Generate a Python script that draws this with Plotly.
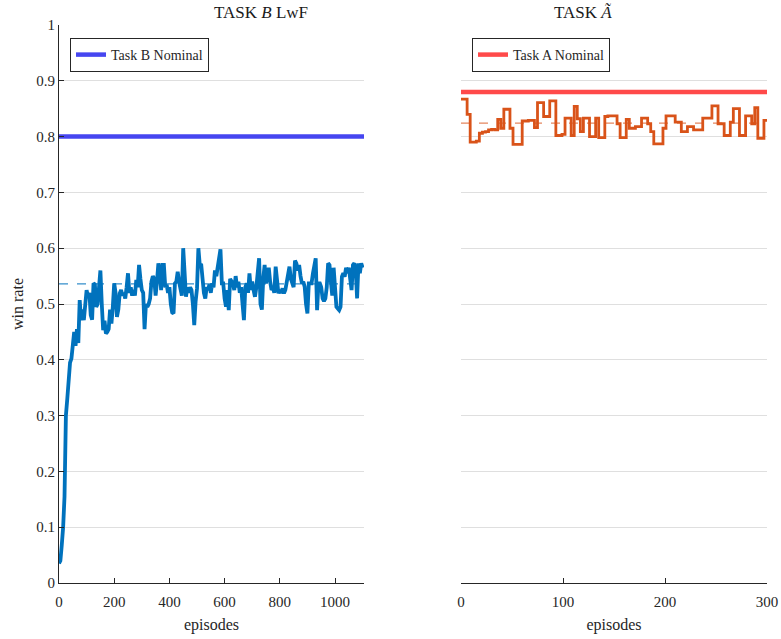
import plotly.graph_objects as go

# ---------------- data ----------------
# Task B (LwF) win rate, sampled every 5 episodes
episodes_b = list(range(0, 1101, 5))
win_b = [
    0.035, 0.040, 0.068, 0.100, 0.155, 0.300, 0.330, 0.372, 0.395, 0.402,
    0.420, 0.450, 0.425, 0.455, 0.430, 0.507, 0.471, 0.490, 0.471, 0.500,
    0.525, 0.513, 0.520, 0.480, 0.472, 0.537, 0.535, 0.495, 0.500, 0.530,
    0.560, 0.500, 0.453, 0.470, 0.447, 0.450, 0.455, 0.490, 0.465, 0.495,
    0.537, 0.520, 0.477, 0.490, 0.519, 0.525, 0.515, 0.520, 0.510, 0.530,
    0.555, 0.520, 0.530, 0.515, 0.525, 0.515, 0.543, 0.530, 0.570, 0.545,
    0.525, 0.520, 0.455, 0.500, 0.495, 0.500, 0.510, 0.540, 0.550, 0.545,
    0.515, 0.540, 0.573, 0.560, 0.525, 0.570, 0.570, 0.530, 0.535, 0.520,
    0.530, 0.500, 0.485, 0.483, 0.537, 0.540, 0.558, 0.540, 0.525, 0.515,
    0.600, 0.540, 0.513, 0.530, 0.520, 0.530, 0.525, 0.500, 0.462, 0.505,
    0.528, 0.600, 0.570, 0.572, 0.535, 0.520, 0.510, 0.530, 0.525, 0.535,
    0.520, 0.537, 0.530, 0.560, 0.550, 0.570, 0.585, 0.598, 0.537, 0.537,
    0.510, 0.495, 0.525, 0.489, 0.545, 0.540, 0.537, 0.525, 0.550, 0.530,
    0.540, 0.520, 0.530, 0.500, 0.471, 0.530, 0.537, 0.520, 0.555, 0.525,
    0.540, 0.525, 0.513, 0.530, 0.560, 0.582, 0.500, 0.490, 0.545, 0.570,
    0.537, 0.550, 0.565, 0.540, 0.525, 0.530, 0.520, 0.567, 0.545, 0.519,
    0.525, 0.520, 0.528, 0.519, 0.525, 0.540, 0.552, 0.567, 0.545, 0.537,
    0.530, 0.578, 0.573, 0.560, 0.570, 0.550, 0.537, 0.540, 0.531, 0.500,
    0.483, 0.537, 0.537, 0.537, 0.555, 0.570, 0.582, 0.489, 0.537, 0.537,
    0.530, 0.510, 0.505, 0.510, 0.530, 0.573, 0.570, 0.540, 0.515, 0.565,
    0.525, 0.495, 0.492, 0.489, 0.495, 0.549, 0.555, 0.549, 0.565, 0.555,
    0.565, 0.550, 0.525, 0.570, 0.573, 0.560, 0.510, 0.573, 0.555, 0.573,
    0.565,
]
mean_b = 0.536
nominal_b = 0.80

# Task A (after training on B) win rate, sampled every 3 episodes
episodes_a = list(range(0, 301, 3))
win_a = [
    0.867, 0.867, 0.840, 0.790, 0.790, 0.792, 0.806, 0.808, 0.809, 0.812,
    0.813, 0.812, 0.831, 0.815, 0.849, 0.849, 0.815, 0.786, 0.786, 0.786,
    0.828, 0.828, 0.829, 0.829, 0.816, 0.861, 0.861, 0.836, 0.836, 0.864,
    0.864, 0.802, 0.802, 0.804, 0.833, 0.833, 0.802, 0.854, 0.832, 0.809,
    0.833, 0.833, 0.800, 0.800, 0.833, 0.798, 0.798, 0.836, 0.837, 0.837,
    0.837, 0.823, 0.798, 0.798, 0.831, 0.815, 0.815, 0.818, 0.818, 0.833,
    0.833, 0.823, 0.809, 0.787, 0.787, 0.787, 0.815, 0.837, 0.837, 0.837,
    0.826, 0.826, 0.809, 0.809, 0.818, 0.818, 0.812, 0.812, 0.812, 0.833,
    0.833, 0.833, 0.855, 0.855, 0.823, 0.823, 0.802, 0.802, 0.826, 0.850,
    0.850, 0.802, 0.802, 0.837, 0.837, 0.823, 0.852, 0.797, 0.797, 0.829,
    0.829,
]
mean_a = 0.824
nominal_a = 0.88

xmax_b = 1105
xmax_a = 300
y_ticks = [0, 0.1, 0.2, 0.3, 0.4, 0.5, 0.6, 0.7, 0.8, 0.9, 1]
y_tick_text = ["0", "0.1", "0.2", "0.3", "0.4", "0.5", "0.6", "0.7", "0.8", "0.9", "1"]
x_ticks_b = [0, 200, 400, 600, 800, 1000]
x_ticks_a = [0, 100, 200, 300]

# ---------------- styling ----------------
FONT = "Liberation Serif, Times New Roman, serif"
AXIS_COLOR = "#262626"
GRID_COLOR = "#dfdfdf"
BLUE = "#0072BD"
ORANGE = "#D95319"
NOM_BLUE = "#4646F0"
NOM_RED = "#FF4A4A"

fig = go.Figure()

# left panel: task B
fig.add_trace(go.Scatter(
    x=[0, xmax_b], y=[mean_b, mean_b], mode="lines",
    line=dict(color="rgba(0,114,189,0.8)", width=1.2, dash="dash"),
    xaxis="x", yaxis="y", showlegend=False, hoverinfo="skip"))
fig.add_trace(go.Scatter(
    x=episodes_b, y=win_b, mode="lines",
    line=dict(color=BLUE, width=3.8),
    xaxis="x", yaxis="y", showlegend=False))
fig.add_trace(go.Scatter(
    x=[0, xmax_b], y=[nominal_b, nominal_b], mode="lines",
    line=dict(color=NOM_BLUE, width=4.5),
    name="Task B Nominal", xaxis="x", yaxis="y", legend="legend"))

# right panel: task A
fig.add_trace(go.Scatter(
    x=[0, xmax_a], y=[mean_a, mean_a], mode="lines",
    line=dict(color="rgba(217,83,25,0.7)", width=1.2, dash="dash"),
    xaxis="x2", yaxis="y2", showlegend=False, hoverinfo="skip"))
fig.add_trace(go.Scatter(
    x=episodes_a, y=win_a, mode="lines", line_shape="hv",
    line=dict(color=ORANGE, width=2.8),
    xaxis="x2", yaxis="y2", showlegend=False))
fig.add_trace(go.Scatter(
    x=[0, xmax_a], y=[nominal_a, nominal_a], mode="lines",
    line=dict(color=NOM_RED, width=4.5),
    name="Task A Nominal", xaxis="x2", yaxis="y2", legend="legend2"))

x_common = dict(
    showline=True, linecolor=AXIS_COLOR, linewidth=1,
    ticks="inside", ticklen=5, tickcolor=AXIS_COLOR,
    showgrid=False, zeroline=False, automargin=False,
    ticklabelstandoff=5,
    tickfont=dict(family=FONT, size=15, color=AXIS_COLOR),
    title=dict(text="episodes", font=dict(family=FONT, size=16, color=AXIS_COLOR), standoff=9),
)

y_dom = [1 - 583 / 639, 1 - 25 / 639]

legend_style = dict(
    xanchor="left", yanchor="top", y=1 - 38 / 639,
    bgcolor="white", bordercolor="#262626", borderwidth=1,
    font=dict(family=FONT, size=14, color=AXIS_COLOR),
    tracegroupgap=0, itemwidth=30,
)

fig.update_layout(
    width=781, height=639,
    margin=dict(l=0, r=0, t=0, b=0, autoexpand=False),
    paper_bgcolor="white", plot_bgcolor="white",
    font=dict(family=FONT, color=AXIS_COLOR),
    xaxis=dict(domain=[59 / 781, 364 / 781], range=[0, xmax_b],
               tickvals=x_ticks_b, anchor="y", **x_common),
    yaxis=dict(domain=y_dom, range=[0, 1], tickvals=y_ticks, ticktext=y_tick_text,
               showline=True, linecolor=AXIS_COLOR, linewidth=1,
               ticks="inside", ticklen=5, tickcolor=AXIS_COLOR,
               showgrid=True, gridcolor=GRID_COLOR, gridwidth=1, zeroline=False,
               automargin=False,
               tickfont=dict(family=FONT, size=15, color=AXIS_COLOR),
               title=dict(text="win rate", font=dict(family=FONT, size=16, color=AXIS_COLOR), standoff=8),
               anchor="x"),
    xaxis2=dict(domain=[461 / 781, 767 / 781], range=[0, xmax_a],
                tickvals=x_ticks_a, anchor="y2", **x_common),
    yaxis2=dict(domain=y_dom, range=[0, 1], tickvals=y_ticks,
                showticklabels=False, showline=False, ticks="",
                showgrid=True, gridcolor=GRID_COLOR, gridwidth=1, zeroline=False,
                automargin=False, anchor="x2"),
    legend=dict(x=70 / 781, **legend_style),
    legend2=dict(x=472 / 781, **legend_style),
    annotations=[
        dict(text="TASK <i>B</i> LwF", x=(59 + 364) / 2 / 781, y=1 - 12 / 639,
             xref="paper", yref="paper", showarrow=False, yanchor="middle",
             font=dict(family=FONT, size=17, color="#1a1a1a")),
        dict(text="TASK <i>Ã</i>", x=(461 + 767) / 2 / 781, y=1 - 12 / 639,
             xref="paper", yref="paper", showarrow=False, yanchor="middle",
             font=dict(family=FONT, size=17, color="#1a1a1a")),
    ],
)

fig.write_html("out.html")
